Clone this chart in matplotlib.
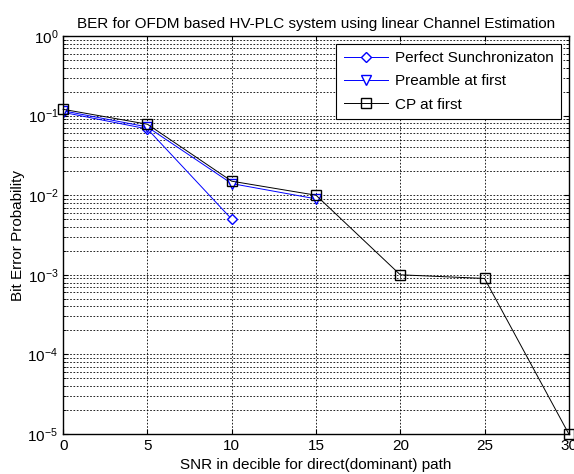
import matplotlib
matplotlib.use('Agg')
import matplotlib.pyplot as plt
from matplotlib.ticker import LogLocator, NullFormatter

plt.rcParams['font.family'] = ['Liberation Sans', 'DejaVu Sans']

snr_perfect = [0, 5, 10]
ber_perfect = [0.11, 0.068, 0.005]

snr_preamble = [0, 5, 10, 15]
ber_preamble = [0.115, 0.072, 0.014, 0.009]

snr_cp = [0, 5, 10, 15, 20, 25, 30]
ber_cp = [0.12, 0.078, 0.015, 0.01, 0.001, 0.0009, 0.00001]

fig = plt.figure(figsize=(5.74, 4.74), dpi=100)
ax = fig.add_axes([0.11, 0.0844, 0.881, 0.8396])

ax.semilogy(snr_perfect, ber_perfect, color='#0000ff', marker='D', markersize=5.5,
            markerfacecolor='white', lw=0.7, label='Perfect Sunchronizaton')
ax.semilogy(snr_preamble, ber_preamble, color='#0000ff', marker='v', markersize=6.5,
            markerfacecolor='white', lw=0.7, label='Preamble at first')
ax.semilogy(snr_cp, ber_cp, color='black', marker='s', markersize=6.5,
            markerfacecolor='none', lw=0.7, label='CP at first', clip_on=False)

ax.set_xlim(0, 30)
ax.set_ylim(1e-5, 1)
ax.set_xticks([0, 5, 10, 15, 20, 25, 30])
ax.yaxis.set_major_locator(LogLocator(base=10, numticks=10))
ax.yaxis.set_minor_locator(LogLocator(base=10, subs=range(2, 10), numticks=10))
ax.yaxis.set_minor_formatter(NullFormatter())

ax.grid(True, which='major', axis='both', color='black', linestyle=(0, (2, 2)), lw=0.6)
ax.grid(True, which='minor', axis='y', color='black', linestyle=(0, (2, 2)), lw=0.6)
ax.tick_params(which='both', direction='in', labelsize=11, top=True, right=True)
ax.tick_params(which='minor', length=2)
for s in ax.spines.values():
    s.set_linewidth(1.0)

ax.set_title('BER for OFDM based HV-PLC system using linear Channel Estimation', fontsize=11, pad=6)
ax.set_xlabel('SNR in decible for direct(dominant) path', fontsize=11, labelpad=4)
ax.set_ylabel('Bit Error Probability', fontsize=11, labelpad=2)

leg = ax.legend(loc='upper right', fontsize=11, fancybox=False, framealpha=1,
                edgecolor='black', borderaxespad=0.5, handlelength=2.9,
                handletextpad=0.45, labelspacing=0.6, borderpad=0.5)
leg.get_frame().set_linewidth(0.8)

fig.savefig('out.png', dpi=100)
